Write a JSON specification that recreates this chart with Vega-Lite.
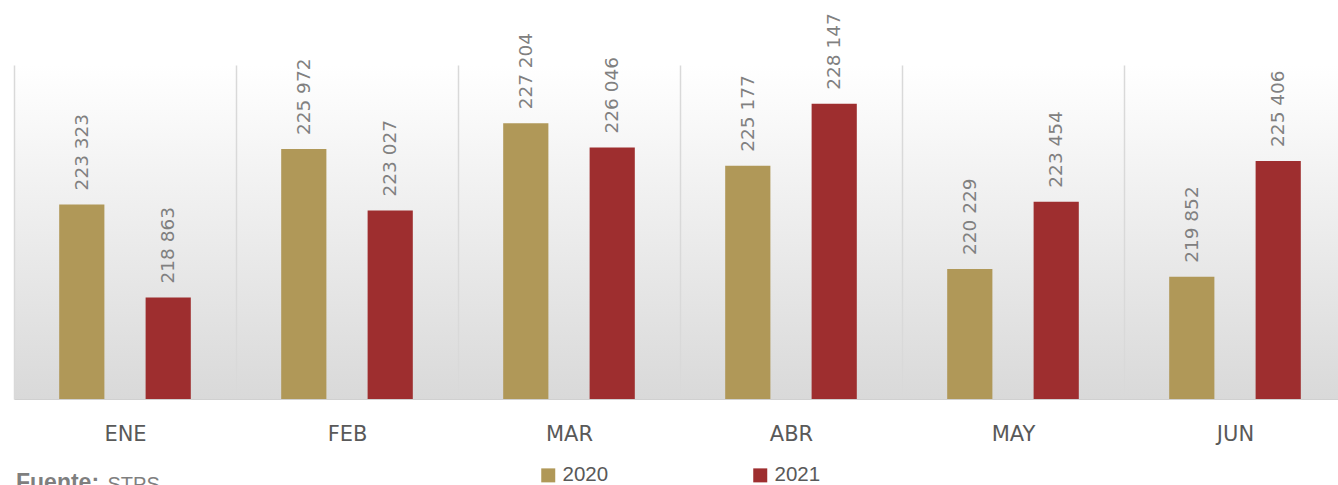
{
  "$schema": "https://vega.github.io/schema/vega-lite/v6.json",
  "width": 1324,
  "height": 334,
  "autosize": "none",
  "padding": {"left": 14, "top": 65, "right": 0, "bottom": 86},
  "background": "#ffffff",
  "title": {
    "text": "Fuente:",
    "orient": "bottom",
    "anchor": "start",
    "frame": "group",
    "font": "Liberation Sans",
    "fontSize": 23,
    "fontWeight": "bold",
    "color": "#7f7f7f",
    "baseline": "alphabetic",
    "dx": 2,
    "offset": -4
  },
  "data": {
    "values": [
      {"mes": "ENE", "anio": "2020", "valor": 223323},
      {"mes": "ENE", "anio": "2021", "valor": 218863},
      {"mes": "FEB", "anio": "2020", "valor": 225972},
      {"mes": "FEB", "anio": "2021", "valor": 223027},
      {"mes": "MAR", "anio": "2020", "valor": 227204},
      {"mes": "MAR", "anio": "2021", "valor": 226046},
      {"mes": "ABR", "anio": "2020", "valor": 225177},
      {"mes": "ABR", "anio": "2021", "valor": 228147},
      {"mes": "MAY", "anio": "2020", "valor": 220229},
      {"mes": "MAY", "anio": "2021", "valor": 223454},
      {"mes": "JUN", "anio": "2020", "valor": 219852},
      {"mes": "JUN", "anio": "2021", "valor": 225406}
    ]
  },
  "encoding": {
    "x": {
      "field": "mes",
      "type": "nominal",
      "sort": null,
      "scale": {"range": [0, 1332], "paddingInner": 0, "paddingOuter": 0},
      "axis": {
        "title": "STPS",
        "titleX": 93,
        "titleY": 91,
        "titleAlign": "left",
        "titleBaseline": "alphabetic",
        "titleFont": "Liberation Sans",
        "titleFontSize": 20,
        "titleFontWeight": "normal",
        "titleColor": "#7f7f7f",
        "labelAngle": 0,
        "labelFont": "DejaVu Sans",
        "labelFontSize": 21,
        "labelColor": "#595959",
        "labelBaseline": "alphabetic",
        "labelPadding": 41,
        "ticks": false,
        "tickSize": 0,
        "tickBand": "extent",
        "grid": true,
        "gridColor": "#d9d9d9",
        "gridWidth": 1.5,
        "domain": true,
        "domainColor": "#d0d0d0",
        "domainWidth": 1
      }
    },
    "xOffset": {
      "field": "anio",
      "type": "nominal",
      "scale": {"paddingInner": 0.477, "paddingOuter": 0.523}
    },
    "y": {
      "field": "valor",
      "type": "quantitative",
      "scale": {"domain": [214000, 230000], "zero": false, "nice": false},
      "axis": null
    }
  },
  "layer": [
    {
      "mark": {"type": "bar"},
      "encoding": {
        "y2": {"datum": 214000},
        "color": {
          "field": "anio",
          "type": "nominal",
          "scale": {"domain": ["2020", "2021"], "range": ["#b09858", "#9e2e2f"]},
          "legend": {
            "orient": "none",
            "legendX": 524,
            "legendY": 400,
            "direction": "horizontal",
            "title": null,
            "symbolType": "square",
            "symbolSize": 196,
            "symbolStrokeWidth": 0,
            "labelFont": "Liberation Sans",
            "labelFontSize": 20.5,
            "labelColor": "#595959",
            "labelOffset": 4,
            "columnPadding": 141,
            "padding": 0
          }
        }
      }
    },
    {
      "mark": {
        "type": "text",
        "angle": 270,
        "align": "left",
        "baseline": "middle",
        "dx": 14,
        "font": "DejaVu Sans",
        "fontSize": 18.5,
        "color": "#808080"
      },
      "encoding": {
        "text": {"field": "valor", "type": "quantitative", "format": ",d"}
      }
    }
  ],
  "config": {
    "locale": {"number": {"decimal": ",", "thousands": " ", "grouping": [3], "currency": ["$", ""]}},
    "view": {
      "stroke": null,
      "fill": {
        "gradient": "linear",
        "x1": 0, "y1": 0, "x2": 0, "y2": 1,
        "stops": [
          {"offset": 0, "color": "#ffffff"},
          {"offset": 1, "color": "#d9d9d9"}
        ]
      }
    }
  }
}
